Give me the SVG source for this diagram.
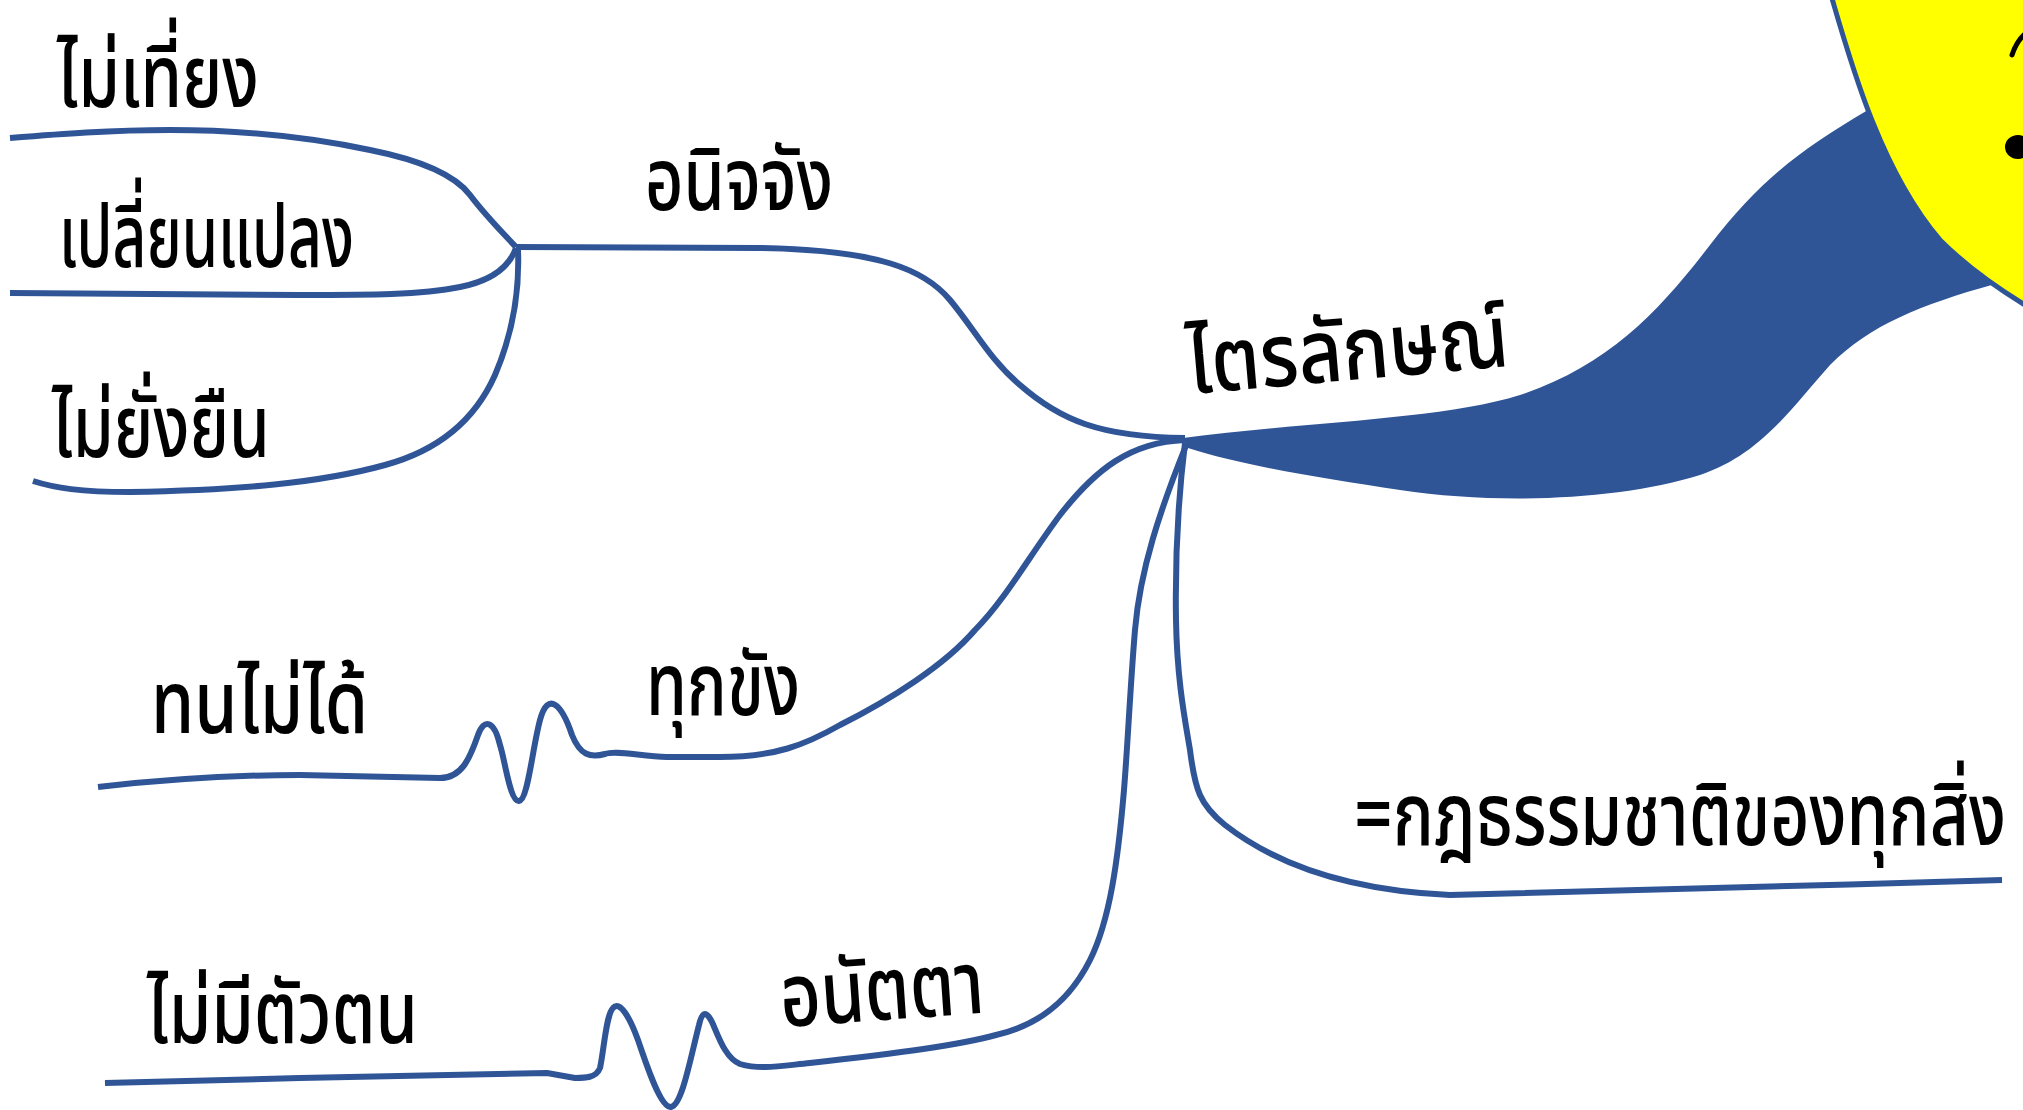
<svg xmlns="http://www.w3.org/2000/svg" width="2023" height="1110" viewBox="0 0 2023 1110">
<style>
.t{font-family:'Noto Sans Thai','Noto Sans Thai UI','Noto Sans','DejaVu Sans',sans-serif;font-size:88px;font-weight:500;fill:#000;}
.c{fill:none;stroke:#2F5597;stroke-width:6;stroke-linecap:butt;stroke-linejoin:round;}
</style>
<rect width="2023" height="1110" fill="#ffffff"/>
<g id="connectors">
  <path id="main-branch" fill="#2F5597" d="M 1183,438 C 1300,422 1440,420 1520,395 C 1610,365 1660,310 1710,245 C 1760,180 1800,150 1868,110 L 1950,200 L 1995,284 C 1920,305 1870,325 1830,365 C 1790,410 1760,455 1700,475 C 1620,500 1500,505 1400,490 C 1320,478 1240,465 1188,448 Z"/>
  <path class="c" d="M 516,247 L 760,248 C 880,250 925,270 950,300 C 975,330 990,360 1020,385 C 1060,420 1100,437 1185,438"/>
  <path class="c" d="M 516,247 C 500,230 485,215 470,195 C 455,175 420,160 370,150 C 300,135 230,130 170,130 C 110,130 60,134 10,138"/>
  <path class="c" d="M 516,248 C 510,265 495,280 460,287 C 420,295 370,295 300,295 L 10,293"/>
  <path class="c" d="M 518,250 C 520,300 510,340 495,375 C 475,420 440,450 385,465 C 320,483 240,490 130,492 C 80,492 55,488 33,481"/>
  <path class="c" d="M 1185,440 C 1130,442 1095,470 1060,515 C 1030,555 1005,600 975,630 C 945,665 890,700 840,725 C 805,745 775,757 720,757 L 667,757 C 640,756 615,750 605,754 C 590,758 580,755 572,735 C 562,705 548,690 540,720 C 532,750 528,800 519,801 C 510,802 505,760 500,745 C 494,720 484,718 478,735 C 470,758 462,778 440,778 L 300,775 C 230,775 160,780 98,787"/>
  <path class="c" d="M 1187,443 C 1160,510 1140,570 1135,630 C 1130,690 1128,740 1124,790 C 1118,860 1110,920 1090,960 C 1070,1000 1040,1025 996,1035 C 960,1045 900,1053 810,1063 C 780,1066 760,1070 740,1064 C 725,1058 718,1035 712,1022 C 706,1010 702,1012 699,1025 C 690,1060 682,1105 671,1107 C 660,1108 645,1060 638,1040 C 630,1018 620,1000 613,1008 C 606,1015 604,1050 600,1068 C 596,1078 585,1078 575,1078 L 547,1073 C 500,1074 420,1075 300,1078 L 105,1083"/>
  <path class="c" d="M 1185,443 C 1178,500 1175,560 1176,620 C 1177,680 1185,720 1190,750 C 1195,790 1200,805 1225,825 C 1270,860 1340,890 1450,895 C 1550,893 1800,886 2002,880"/>
</g>
<g id="node-center">
  <path fill="#FFFF00" stroke="#2F5597" stroke-width="5" d="M 1831,-5 C 1850,60 1880,170 1940,240 C 1965,265 1995,287 2030,308 L 2030,-5 Z"/>
  <path fill="none" stroke="#000" stroke-width="5" stroke-linecap="round" d="M 2012,55 C 2015,46 2019,39 2026,33"/>
  <ellipse cx="2018" cy="147" rx="13" ry="12" fill="#000"/>
</g>
<g id="node-trilak"><text class="t" x="1190" y="394" textLength="322" lengthAdjust="spacingAndGlyphs" transform="rotate(-5 1190 394)">ไตรลักษณ์</text></g>
<g id="node-anicca"><text class="t" x="645" y="210" textLength="188" lengthAdjust="spacingAndGlyphs">อนิจจัง</text></g>
<g id="node-mai-thiang"><text class="t" x="57" y="107" textLength="202" lengthAdjust="spacingAndGlyphs">ไม่เที่ยง</text></g>
<g id="node-plian"><text class="t" x="59" y="267" textLength="295" lengthAdjust="spacingAndGlyphs">เปลี่ยนแปลง</text></g>
<g id="node-mai-yang"><text class="t" x="52" y="457" textLength="218" lengthAdjust="spacingAndGlyphs">ไม่ยั่งยืน</text></g>
<g id="node-dukkha"><text class="t" x="646" y="715" textLength="154" lengthAdjust="spacingAndGlyphs">ทุกขัง</text></g>
<g id="node-thon"><text class="t" x="151" y="733" textLength="217" lengthAdjust="spacingAndGlyphs">ทนไม่ได้</text></g>
<g id="node-anatta"><text class="t" x="782" y="1027" textLength="204" lengthAdjust="spacingAndGlyphs" transform="rotate(-4 782 1027)">อนัตตา</text></g>
<g id="node-mai-mi"><text class="t" x="147" y="1043" textLength="271" lengthAdjust="spacingAndGlyphs">ไม่มีตัวตน</text></g>
<g id="node-kot"><text class="t" x="0" y="0" textLength="1087" lengthAdjust="spacingAndGlyphs" transform="translate(1354 845) scale(0.6 1)">=กฎธรรมชาติของทุกสิ่ง</text></g>
</svg>
